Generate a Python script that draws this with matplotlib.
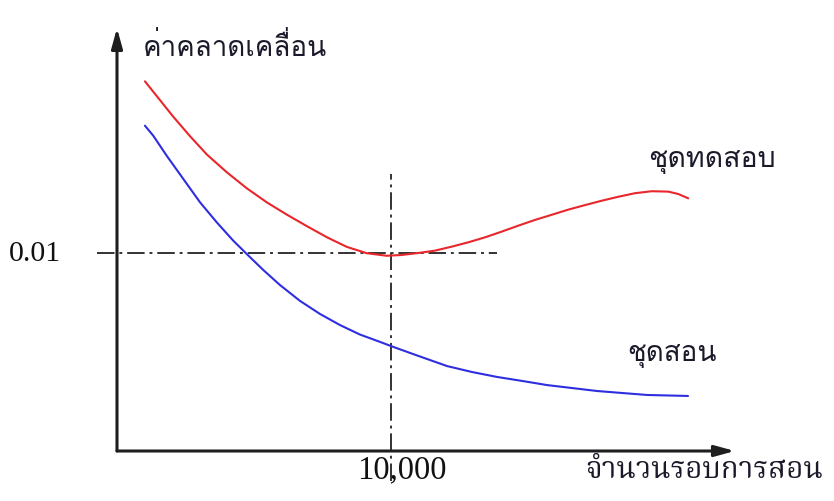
import matplotlib
matplotlib.use("Agg")
import matplotlib.pyplot as plt

# error vs. training iterations
test_x = [1020, 1570, 2055, 2665, 3275, 4005, 4735, 5465, 6195, 6925, 7655, 8385, 9115, 9845,
          10390, 11000, 11605, 12215, 12820, 13430, 14040, 14645, 15255, 15865, 16470, 17080,
          17690, 18295, 18905, 19515, 20120, 20485, 20850]
test_err = [0.01867, 0.01772, 0.01688, 0.01590, 0.01498, 0.01408, 0.01327, 0.01256, 0.01194,
            0.01136, 0.01080, 0.01031, 0.00999, 0.00986, 0.0099, 0.0100, 0.01012, 0.01032,
            0.01054, 0.01079, 0.01108, 0.01138, 0.01167, 0.01193, 0.01219, 0.01242, 0.01264,
            0.01284, 0.01302, 0.01312, 0.0131, 0.01298, 0.01276]
train_x = [1020, 1325, 1815, 2420, 3030, 3640, 4245, 4735, 5340, 5950, 6680, 7410, 8140, 8870,
           9600, 10000, 10800, 12045, 12955, 13870, 14780, 15695, 16605, 17520, 18430, 19345, 20840]
train_err = [0.01643, 0.01592, 0.01491, 0.01374, 0.01256, 0.01155, 0.01062, 0.00995, 0.00914,
             0.00838, 0.00758, 0.00692, 0.00636, 0.00588, 0.00551, 0.0053, 0.0049, 0.00429,
             0.00399, 0.00374, 0.00354, 0.00333, 0.00318, 0.00303, 0.00293, 0.00283, 0.00278]

best_iter = 10000
best_err = 0.01
x_end = 22550
y_end = 0.02136

thai_sans = ["Loma", "Noto Sans Thai Looped", "DejaVu Sans"]
thai_serif = ["Noto Serif Thai", "Liberation Serif"]
num_serif = ["Liberation Serif", "DejaVu Serif"]

fig = plt.figure(figsize=(8.34, 5.02), dpi=100)
ax = fig.add_axes([0, 0, 1, 1])
ax.set_xlim(-4270, 26168)
ax.set_ylim(-0.002525, 0.022828)
ax.axis("off")

# axes drawn as arrows
arrow = dict(arrowstyle="-|>,head_length=1.2,head_width=0.33", color="#1e1e1e", lw=2.2,
             shrinkA=0, shrinkB=0)
ax.annotate("", xy=(x_end, 0), xytext=(0, 0), arrowprops=arrow)
ax.annotate("", xy=(0, y_end), xytext=(0, 0), arrowprops=arrow)

# reference lines
dashdot = (0, (9, 2.5, 1.5, 2.5))
ax.plot([-730, 13870], [best_err, best_err], color="#333333", lw=1.4, linestyle=dashdot)
ax.plot([best_iter, best_iter], [-0.0015, 0.01399], color="#333333", lw=1.4, linestyle=dashdot)

ax.plot(test_x, test_err, color="#e8262c", lw=1.5, solid_capstyle="round")
ax.plot(train_x, train_err, color="#2e2ee0", lw=1.5, solid_capstyle="round")

ax.text(-3000, best_err, "0.01", family=num_serif, fontsize=21.5, ha="center", va="center", color="#111111")
ax.text(best_iter + 400, -0.00093, "10,000", family=num_serif, fontsize=23.5, ha="center", va="center",
        color="#111111")

ax.text(950, 0.02042, "ค่าคลาดเคลื่อน", family=thai_sans, fontsize=20, ha="left", va="center", color="#1a1a2a")
ax.text(19380, 0.01470, "ชุดทดสอบ", family=thai_sans, fontsize=20.5, ha="left", va="center", color="#1a1a2a")
ax.text(18620, 0.00490, "ชุดสอน", family=thai_sans, fontsize=20, ha="left", va="center", color="#1a1a2a")
ax.text(17080, -0.00093, "จำนวนรอบการสอน", family=thai_serif, fontsize=21.3, ha="left", va="center",
        color="#1a1a2a")

fig.savefig("out.png", dpi=100)
